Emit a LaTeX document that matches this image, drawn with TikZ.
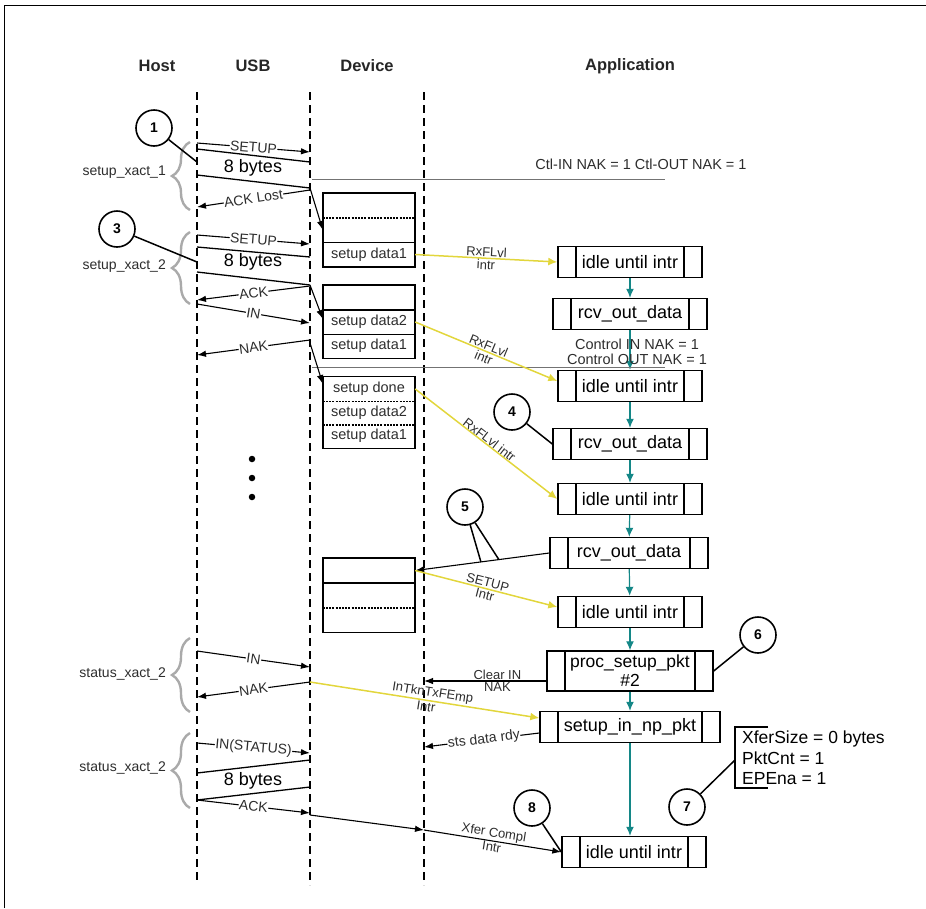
\documentclass[tikz,border=0pt]{standalone}
\usepackage{fontspec}
\setmainfont{Liberation Sans}
\usetikzlibrary{arrows.meta,calc,decorations.pathreplacing}
\definecolor{ylw}{RGB}{226,214,60}
\definecolor{tealc}{RGB}{20,135,135}
\definecolor{braceg}{RGB}{170,170,170}
\definecolor{txtg}{RGB}{45,45,45}
\begin{document}
\begin{tikzpicture}[x=1pt,y=-1pt,
  hdr/.style={font=\fontsize{16.5}{18}\selectfont\bfseries, text=black!85},
  lifeline/.style={line width=2.4pt, dash pattern=on 8pt off 5pt},
  msg/.style={line width=1.1pt, -{Latex[length=9pt,width=6.5pt]}},
  pkt/.style={line width=1.3pt},
  lbl/.style={font=\fontsize{14}{14}\selectfont, text=txtg, fill=white, inner sep=0.5pt},
  bytes/.style={font=\fontsize{18}{18}\selectfont, text=black, inner sep=0pt},
  side/.style={font=\fontsize{14}{14}\selectfont, text=txtg, anchor=east, inner sep=0pt},
  bracestyle/.style={draw=braceg, line width=2.4pt, decorate, decoration={brace, amplitude=18pt}},
  cell/.style={minimum width=92pt, minimum height=24.5pt, inner sep=0pt, font=\fontsize{14.5}{15}\selectfont, text=txtg},
  boxline/.style={line width=1.5pt},
  sepdash/.style={line width=1.5pt, dash pattern=on 2pt off 1.2pt},
  procbox/.style={draw, line width=1.4pt, inner sep=0pt, minimum height=31pt, font=\fontsize{18}{19}\selectfont,
    path picture={\draw[line width=1.4pt]
      ([xshift=18pt]path picture bounding box.north west) -- ([xshift=18pt]path picture bounding box.south west)
      ([xshift=-18pt]path picture bounding box.north east) -- ([xshift=-18pt]path picture bounding box.south east);}},
  tarr/.style={draw=tealc, line width=1.2pt, -{Latex[length=9pt,width=8pt]}},
  yarr/.style={draw=ylw, line width=1.5pt, -{Latex[length=9pt,width=8pt]}},
  ylbl/.style={font=\fontsize{13}{13}\selectfont, text=txtg, inner sep=1pt},
  numc/.style={circle, draw, line width=1.6pt, minimum size=36pt, inner sep=0pt, font=\fontsize{14}{14}\selectfont\bfseries},
  gline/.style={draw=black!55, line width=0.9pt},
  note/.style={font=\fontsize{14.5}{14.5}\selectfont, text=txtg, inner sep=0pt},
  dot/.style={circle, fill=black, minimum size=6.5pt, inner sep=0pt}
]
\useasboundingbox (0,0) rectangle (926,908);
\draw[line width=1pt] (4,908) -- (4,5) -- (926,5);

% headers
\node[hdr] (hHost) at (157,66) {Host};
\node[hdr] (hUSB) at (253,66) {USB};
\node[hdr] (hDev) at (367,66) {Device};
\node[hdr] (hApp) at (630,66) {Application};

% lifelines
\coordinate (HT) at (197,92); \coordinate (HB) at (197,880);
\coordinate (UT) at (310,92); \coordinate (UB) at (310,885);
\coordinate (DT) at (424,92); \coordinate (DB) at (424,885);
\draw[lifeline] (HT) -- (HB);
\draw[lifeline] (UT) -- (UB);
\draw[lifeline] (DT) -- (DB);

% braces and side labels
\draw[bracestyle] (190,210) -- (190,142);
\node[side] (sx1) at (166,172) {setup\_xact\_1};
\draw[bracestyle] (190,304) -- (190,232);
\node[side] (sx2) at (166,266) {setup\_xact\_2};
\draw[bracestyle] (190,712) -- (190,638);
\node[side] (st1) at (166,674) {status\_xact\_2};
\draw[bracestyle] (190,808) -- (190,733);
\node[side] (st2) at (166,768) {status\_xact\_2};

% device boxes
\node[cell] (b1a) at (369,205.5) {};
\node[cell] (b1b) at (369,230) {};
\node[cell] (b1c) at (369,254.5) {setup data1};
\draw[boxline] (b1a.north west) rectangle (b1c.south east);
\draw[sepdash] (b1a.south west) -- (b1a.south east);
\draw[boxline] (b1b.south west) -- (b1b.south east);

\node[cell] (b2a) at (369,297.5) {};
\node[cell] (b2b) at (369,322) {setup data2};
\node[cell] (b2c) at (369,346) {setup data1};
\draw[boxline] (b2a.north west) rectangle (b2c.south east);
\draw[boxline] (b2a.south west) -- (b2a.south east);
\draw[boxline] (b2b.south west) -- (b2b.south east);

\node[cell] (b3a) at (369,389) {setup done};
\node[cell] (b3b) at (369,412.5) {setup data2};
\node[cell] (b3c) at (369,436) {setup data1};
\draw[boxline] (b3a.north west) rectangle (b3c.south east);
\draw[sepdash] (b3a.south west) -- (b3a.south east);
\draw[sepdash] (b3b.south west) -- (b3b.south east);

\node[cell] (b4a) at (369,570.5) {};
\node[cell] (b4b) at (369,595.5) {};
\node[cell] (b4c) at (369,620) {};
\draw[boxline] (b4a.north west) rectangle (b4c.south east);
\draw[boxline] (b4a.south west) -- (b4a.south east);
\draw[sepdash] (b4b.south west) -- (b4b.south east);

% dots
\node[dot] (d1) at (252,459) {};
\node[dot] (d2) at (252,478) {};
\node[dot] (d3) at (252,497) {};

% application boxes
\node[procbox, minimum width=144pt] (idle1) at (630,262) {idle until intr};
\node[procbox, minimum width=154pt] (rcv1) at (630,314) {rcv\_out\_data};
\node[procbox, minimum width=144pt] (idle2) at (630,386) {idle until intr};
\node[procbox, minimum width=154pt] (rcv2) at (630,444) {rcv\_out\_data};
\node[procbox, minimum width=144pt] (idle3) at (630,499) {idle until intr};
\node[procbox, minimum width=158pt] (rcv3) at (629,553) {rcv\_out\_data};
\node[procbox, minimum width=144pt] (idle4) at (630,612) {idle until intr};
\node[procbox, minimum width=166pt, minimum height=40pt, align=center, font=\fontsize{17.5}{19}\selectfont] (proc) at (630,671) {proc\_setup\_pkt\\\#2};
\node[procbox, minimum width=180pt] (setupin) at (630,727) {setup\_in\_np\_pkt};
\node[procbox, minimum width=144pt] (idle5) at (634,852) {idle until intr};

\draw[tarr] (idle1) -- (rcv1);
\draw[tarr] (rcv1) -- (idle2);
\draw[tarr] (idle2) -- (rcv2);
\draw[tarr] (rcv2) -- (idle3);
\draw[tarr] (idle3) -- (rcv3);
\draw[tarr] (rcv3) -- (idle4);
\draw[tarr] (idle4) -- (proc);
\draw[tarr] (proc) -- (setupin);
\draw[tarr] (setupin.south) -- (setupin.south |- idle5.north);

% gray NAK lines
\coordinate (g1a) at (312,179); \coordinate (g1b) at (665,179);
\draw[gline] (g1a) -- (g1b);
\node[note] (n1) at (641,164) {Ctl-IN NAK = 1 Ctl-OUT NAK = 1};
\coordinate (g2a) at (312,367); \coordinate (g2b) at (665,367);
\draw[gline] (g2a) -- (g2b);
\node[note] (n2) at (637,344) {Control IN NAK = 1};
\node[note] (n3) at (637,359) {Control OUT NAK = 1};

% ---- setup_xact_1
\coordinate (s1h) at (197,143); \coordinate (s1u) at (310,152);
\draw[msg] (s1h) -- node[lbl, sloped] (ls1) {SETUP} (s1u);
\coordinate (p1ht) at (197,149); \coordinate (p1ut) at (310,162);
\coordinate (p1hb) at (197,175); \coordinate (p1ub) at (310,188);
\draw[pkt] (p1ht) -- (p1ut);
\draw[pkt] (p1hb) -- (p1ub);
\node[bytes] (lb1) at (253,168) {8 bytes};
\draw[msg] (p1ub) -- (b1b.west);
\coordinate (a1u) at (310,190); \coordinate (a1h) at (197,207);
\draw[msg] (a1u) -- node[lbl, sloped] (la1) {ACK Lost} (a1h);

% ---- setup_xact_2
\coordinate (s2h) at (197,235); \coordinate (s2u) at (310,244);
\draw[msg] (s2h) -- node[lbl, sloped] (ls2) {SETUP} (s2u);
\coordinate (p2ht) at (197,247); \coordinate (p2ut) at (310,257);
\coordinate (p2hb) at (197,272); \coordinate (p2ub) at (310,285);
\draw[pkt] (p2ht) -- (p2ut);
\draw[pkt] (p2hb) -- (p2ub);
\node[bytes] (lb2) at (253,262) {8 bytes};
\draw[msg] (p2ub) -- ([yshift=3pt]b2b.west);
\coordinate (a2u) at (310,286); \coordinate (a2h) at (197,300);
\draw[msg] (a2u) -- node[lbl, sloped] (la2) {ACK} (a2h);
\coordinate (i2h) at (197,304); \coordinate (i2u) at (310,323);
\draw[msg] (i2h) -- node[lbl, sloped] (li2) {IN} (i2u);
\coordinate (k2u) at (310,340); \coordinate (k2h) at (197,355);
\draw[msg] (k2u) -- node[lbl, sloped] (lk2) {NAK} (k2h);
\coordinate (k2s) at (310,343);
\draw[msg] (k2s) -- ([yshift=5pt]b3a.west);

% circles 1, 3
\node[numc] (c1) at (154,128) {1};
\coordinate (c1t) at (197,162);
\draw[line width=1.5pt] (c1) -- (c1t);
\node[numc] (c3) at (117,229) {3};
\coordinate (c3t) at (197,262);
\draw[line width=1.5pt] (c3) -- (c3t);

% yellow RxFLvl arrows
\draw[yarr] (b1c.east) -- node[ylbl, sloped, above] (y1a) {RxFLvl} node[ylbl, sloped, below] (y1b) {intr} (idle1.west);
\draw[yarr] (b2b.east) -- node[ylbl, sloped, above] (y2a) {RxFLvl} node[ylbl, sloped, below] (y2b) {intr} ([yshift=5pt]idle2.west);
\draw[yarr] (b3a.east) -- node[ylbl, sloped, above=-1pt, pos=0.5] (y3a) {RxFLvl intr} (idle3.west);

% circle 4
\node[numc] (c4) at (512,412) {4};
\draw[line width=1.5pt] (c4) -- (rcv2.west);

% rcv3 -> box4 and SETUP intr
\draw[msg] (rcv3.west) -- (b4a.east) coordinate[pos=0.51] (q5a) coordinate[pos=0.376] (q5b);
\draw[yarr] (b4a.east) -- node[ylbl, sloped, above] (y4a) {SETUP} node[ylbl, sloped, below] (y4b) {Intr} ([yshift=5pt]idle4.west);
\node[numc] (c5) at (465,507) {5};
\draw[line width=1.5pt] (c5) -- (q5a);
\draw[line width=1.5pt] (c5) -- (q5b);

% ---- status_xact_2 (first)
\coordinate (i3h) at (197,651); \coordinate (i3u) at (310,667);
\draw[msg] (i3h) -- node[lbl, sloped] (li3) {IN} (i3u);
\coordinate (k3u) at (310,682); \coordinate (k3h) at (197,697);
\draw[msg] (k3u) -- node[lbl, sloped] (lk3) {NAK} (k3h);
\draw[yarr] (k3u) -- node[ylbl, sloped, above, pos=0.53] (y5a) {InTknTxFEmp} node[ylbl, sloped, below, pos=0.51] (y5b) {Intr} ([yshift=9pt]setupin.west);
\coordinate (dv1) at (424,681);
\draw[msg] ([yshift=-10pt]proc.west) -- node[ylbl, above, pos=0.4] (lc1) {Clear IN} node[ylbl, below, pos=0.4] (lc2) {NAK} (dv1);
\coordinate (dv2) at (424,747);
\draw[msg] ([yshift=-6pt]setupin.west) -- node[lbl, sloped, pos=0.48] (lsd) {sts data rdy} (dv2);

% circle 6
\node[numc] (c6) at (758,635) {6};
\draw[line width=1.5pt] (c6) -- (proc.east);

% ---- status_xact_2 (second)
\coordinate (i4h) at (197,743); \coordinate (i4u) at (310,753);
\draw[msg] (i4h) -- node[lbl, sloped] (li4) {IN(STATUS)} (i4u);
\coordinate (p4ht) at (197,773); \coordinate (p4ut) at (310,760);
\coordinate (p4hb) at (197,800); \coordinate (p4ub) at (310,787);
\draw[pkt] (p4ht) -- (p4ut);
\draw[pkt] (p4hb) -- (p4ub);
\node[bytes] (lb4) at (253,781) {8 bytes};
\coordinate (a4h) at (197,800); \coordinate (a4u) at (310,813);
\draw[msg] (a4h) -- node[lbl, sloped] (la4) {ACK} (a4u);
\coordinate (x4u) at (310,815); \coordinate (dv3) at (424,830);
\draw[msg] (x4u) -- (dv3);
\draw[msg] (dv3) -- node[ylbl, sloped, above] (lx1) {Xfer Compl} node[ylbl, sloped, below] (lx2) {Intr} (idle5.west);

% circle 8
\node[numc] (c8) at (532,808) {8};
\draw[line width=1.5pt] (c8) -- (idle5.west);

% circle 7 and register note
\coordinate (r7a) at (768,727); \coordinate (r7b) at (735,727);
\coordinate (r7c) at (735,788); \coordinate (r7d) at (768,788);
\coordinate (r7m) at (735,760);
\draw[line width=1.4pt] (r7a) -- (r7b) -- (r7c) -- (r7d);
\node[font=\fontsize{17.5}{20.5}\selectfont, align=left, anchor=west, inner sep=0pt] (reg) at (742,758) {XferSize = 0 bytes\\PktCnt = 1\\EPEna = 1};
\node[numc] (c7) at (687,807) {7};
\draw[line width=1.5pt] (c7) -- (r7m);
\end{tikzpicture}
\end{document}
